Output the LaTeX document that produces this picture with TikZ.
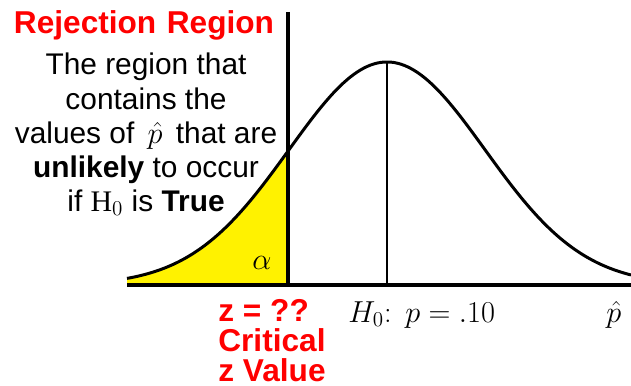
\documentclass[tikz,border=0pt]{standalone}
\usepackage{fontspec}
\setmainfont{Liberation Sans}
\newfontfamily\serifH{Liberation Serif}
\usepackage{tikz}
\tikzset{
  txt/.style={inner sep=0pt,font=\fontsize{17}{19.4}\selectfont,align=center},
  redtxt/.style={inner sep=0pt,text=red,font=\bfseries\fontsize{18}{17.2}\selectfont,align=left},
  mathlbl/.style={inner sep=0pt,font=\fontsize{17}{19}\selectfont},
  bell/.style={line width=1.7pt},
  axisln/.style={line width=2.4pt},
  critln/.style={line width=2.4pt},
  meanln/.style={line width=0.8pt}
}

\begin{document}
\begin{tikzpicture}[x=0.02cm,y=-0.02cm]
\useasboundingbox (0,0) rectangle (631,385);
\coordinate (axL) at (127,285);
\coordinate (axR) at (631,285);
\coordinate (ctop) at (288,12);
\coordinate (cbot) at (288,285);
\coordinate (mtop) at (387,62);
\coordinate (mbot) at (387,285);
\fill[yellow] (axL) -- plot[domain=127:288,samples=60] (\x,{285-223*exp(-0.5*((\x-387)/98)^2)}) -- (cbot) -- cycle;
\draw[bell] plot[domain=127:631,samples=150] (\x,{285-223*exp(-0.5*((\x-387)/98)^2)});
\draw[meanln] (mtop) -- (mbot);
\draw[critln] (ctop) -- (cbot);
\draw[axisln] (axL) -- (axR);
\node[mathlbl,font=\fontsize{19}{20}\selectfont] (alpha) at (262,263) {$\alpha$};
\node[redtxt,anchor=north] (rej) at (144,10) {Rejection\,\,Region};
\node[txt,anchor=north] (desc) at (146,53) {The region that\\contains the\\values of \,$\hat{p}$\, that are\\\textbf{unlikely} to occur\\if {\serifH H}$_0$ is \textbf{True}};
\node[redtxt,anchor=north west] (crit) at (218,299) {z = ??\\Critical\\z Value};
\node[mathlbl,anchor=base west] (null) at (348,322) {$H_0\colon\;p = .10$};
\node[mathlbl,anchor=base west] (phat) at (606,322) {$\hat{p}$};
\end{tikzpicture}
\end{document}
